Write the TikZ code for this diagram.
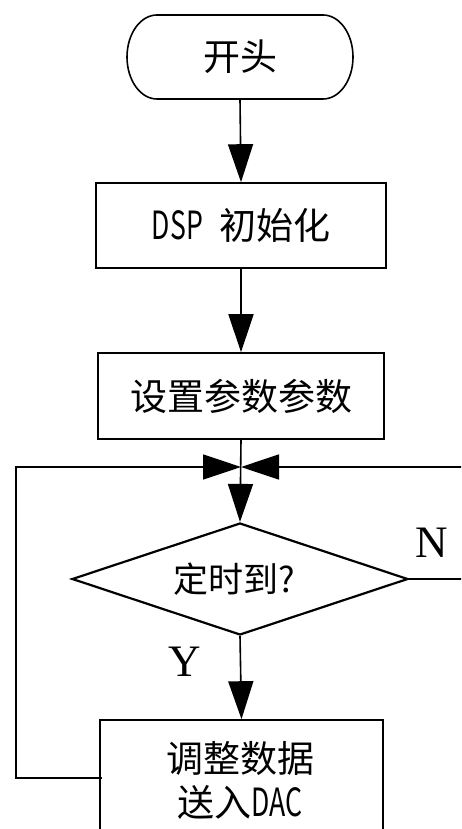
\documentclass[tikz,border=0pt]{standalone}
\usepackage{fontspec}
\newfontfamily\cjk{Noto Sans CJK SC}
\setmainfont{Liberation Serif}
\usetikzlibrary{arrows.meta,shapes.geometric}
\tikzset{
  box/.style={draw, line width=1.6pt, rectangle, inner sep=0pt, font=\cjk\fontsize{37}{40}\selectfont},
  txt/.style={inner sep=0pt, font=\cjk\fontsize{37}{44}\selectfont, align=center},
  dec/.style={draw, line width=2.2pt, diamond, aspect=3, inner sep=0pt, font=\cjk\fontsize{35}{38}\selectfont},
  line/.style={line width=1.6pt},
  arr/.style={line width=1.6pt, -{Triangle[length=38pt,width=25pt]}},
  lbl/.style={inner sep=0pt, font=\fontsize{45}{50}\selectfont}
}
\begin{document}
\begin{tikzpicture}[x=1pt,y=-1pt]
\useasboundingbox (0,0) rectangle (461,829);
\clip (0,0) rectangle (461,829);
% start terminal
\node[txt, minimum width=226, minimum height=84] (start) at (240,57) {开头};
\draw[line] (157,15) -- (323,15) arc[start angle=-90, end angle=90, x radius=30, y radius=42]
  -- (157,99) arc[start angle=90, end angle=270, x radius=30, y radius=42] -- cycle;
% boxes
\node[box, minimum width=290, minimum height=85] (dsp) at (241,225.5)
  {\scalebox{0.72}[1.05]{DSP}\hspace{16pt}初始化};
\node[box, minimum width=286, minimum height=86] (set) at (241,396) {设置参数参数};
\node[dec, minimum width=336, minimum height=112] (dec) at (240,579) {\hspace{-12pt}\raisebox{-8pt}{定时到?}};
\node[box, minimum width=283, minimum height=160] (adj) at (241.5,800) {};
\node[txt] (adjtxt) at (240,780) {调整数据\\送入\scalebox{0.72}[1.05]{DAC}};
% coordinates
\coordinate (j) at (241,467);
\coordinate (lb) at (101.5,778);
\coordinate (l1) at (16,778);
\coordinate (l2) at (16,467);
\coordinate (r1) at (500,579);
\coordinate (r2) at (500,467);
% connectors
\draw[arr] (start.south) -- (dsp.north);
\draw[arr] (dsp.south) -- (set.north);
\draw[arr] (set.south) -- (dec.north);
\draw[arr] (dec.south) -- (adj.north);
\draw[arr] (lb) -- (l1) -- (l2) -- (j);
\draw[arr] (dec.east) -- (r1) -- (r2) -- (j);
% labels
\node[lbl] (n) at (432,543) {N};
\node[lbl] (y) at (185,662) {Y};
\end{tikzpicture}
\end{document}
